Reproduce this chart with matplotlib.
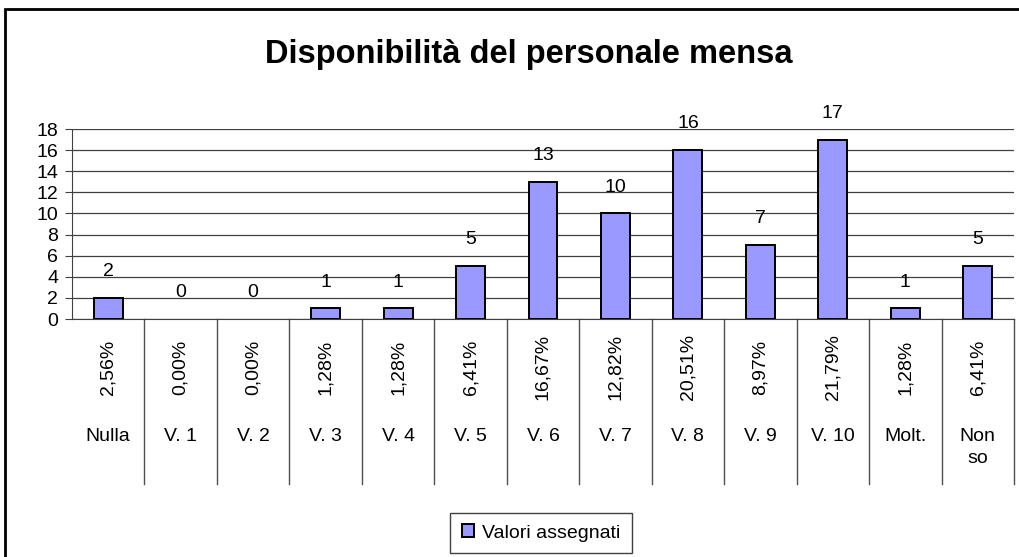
import numpy as np
import matplotlib.pyplot as plt
from matplotlib.patches import Rectangle
import matplotlib.transforms as mtransforms

plt.rcParams['font.family'] = ['Liberation Sans', 'DejaVu Sans']

categorie = ['Nulla', 'V. 1', 'V. 2', 'V. 3', 'V. 4', 'V. 5', 'V. 6', 'V. 7',
             'V. 8', 'V. 9', 'V. 10', 'Molt.', 'Non\nso']
valori = [2, 0, 0, 1, 1, 5, 13, 10, 16, 7, 17, 1, 5]
percentuali = ['2,56%', '0,00%', '0,00%', '1,28%', '1,28%', '6,41%', '16,67%',
               '12,82%', '20,51%', '8,97%', '21,79%', '1,28%', '6,41%']

W, H = 1020, 557
fig = plt.figure(figsize=(W/100, H/100), dpi=100)
fig.patch.set_facecolor('white')
fs = 14

# area del grafico
x0, x1, ytop, ybot = 72, 1014, 129, 319
ax = fig.add_axes([x0/W, 1-ybot/H, (x1-x0)/W, (ybot-ytop)/H])

x = np.arange(len(valori))
bordi = ['black' if v > 0 else 'none' for v in valori]
ax.bar(x, valori, width=0.4, color='#9999FF', edgecolor=bordi, linewidth=1.4,
       label='Valori assegnati', zorder=3)
for xi, v in zip(x, valori):
    ax.annotate(str(v), (xi, v), xytext=(0, 19), textcoords='offset points',
                ha='center', va='center', fontsize=fs)

ax.set_xlim(-0.5, len(valori)-0.5)
ax.set_ylim(0, 18)
ax.set_yticks(np.arange(0, 19, 2))
ax.yaxis.grid(True, color='#404040', linewidth=0.9, zorder=0)
ax.set_xticks([])
ax.tick_params(axis='y', labelsize=fs, length=5, color='#404040', pad=5)
for s in ['top', 'right']:
    ax.spines[s].set_visible(False)
ax.spines['left'].set_color('#404040')
ax.spines['bottom'].set_color('#404040')

# tabella sotto l'asse
trans = mtransforms.blended_transform_factory(ax.transData, ax.transAxes)
depth = -(484-ybot)/(ybot-ytop)
for b in np.arange(0.5, len(valori), 1.0):
    ax.plot([b, b], [0, depth], transform=trans, color='#505050', lw=1.0, clip_on=False)
for xi, p, c in zip(x, percentuali, categorie):
    ax.text(xi, -(367-ybot)/(ybot-ytop), p, transform=trans, rotation=90,
            ha='center', va='center', fontsize=fs)
    ax.text(xi, -(428-ybot)/(ybot-ytop), c, transform=trans,
            ha='center', va='top', fontsize=fs, linespacing=1.4)

fig.text(529/W, 1-55/H, 'Disponibilità del personale mensa', ha='center', va='center',
         fontsize=23.5, fontweight='bold')

leg = fig.legend(loc='center', bbox_to_anchor=(541/W, 1-533/H), fancybox=False,
                 edgecolor='#404040', fontsize=fs, handlelength=0.6, handleheight=0.6,
                 handletextpad=0.4, borderpad=0.6, borderaxespad=0.0, framealpha=1)
leg.get_frame().set_linewidth(1.0)

# cornice esterna
fig.patches.append(Rectangle((5/W, -0.05), 1.2, 1-9/H+0.05, transform=fig.transFigure,
                             fill=False, edgecolor='black', linewidth=2))

fig.savefig('out.png', dpi=100)
